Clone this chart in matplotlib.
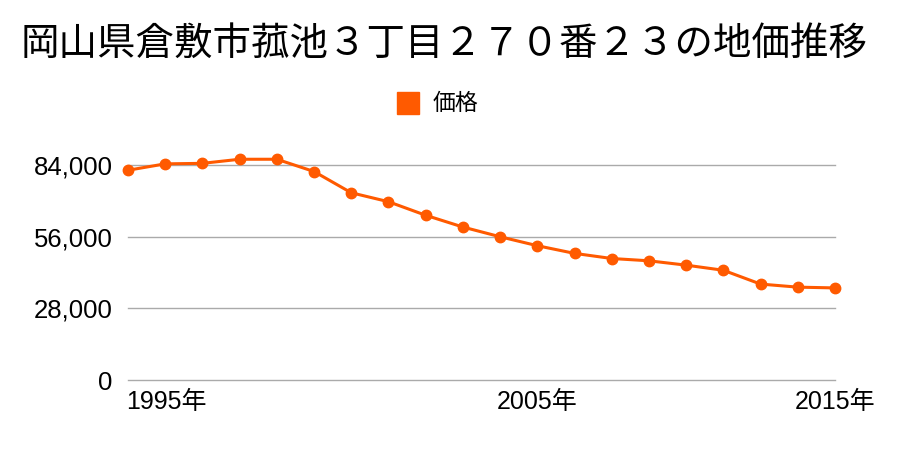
import matplotlib as mpl
mpl.use('Agg')
import matplotlib.pyplot as plt
from matplotlib.patches import Rectangle

plt.rcParams['font.family'] = ['Liberation Sans', 'Noto Sans CJK JP']

title = "岡山県倉敷市菰池３丁目２７０番２３の地価推移"
series_name = "価格"
prices = [82000, 84500, 84700, 86300, 86300, 81500, 73200, 69700, 64400, 59800,
          56000, 52500, 49500, 47500, 46600, 44900, 42900, 37500, 36300, 36000]
yticks = [0, 28000, 56000, 84000]
xtick_pos = [0, 11, 19]
xtick_labels = ["1995年", "2005年", "2015年"]

color = "#ff5a00"

fig = plt.figure(figsize=(9, 4.5), dpi=100)
ax = fig.add_axes([128/900, 1-380/450, (835-128)/900, (380-137)/450])

x = list(range(len(prices)))
ax.plot(x, prices, color=color, lw=2.2, marker='o', ms=7.5, zorder=3, clip_on=False)

ax.set_ylim(0, 95000)
ax.set_xlim(0, len(prices) - 1)
ax.set_yticks(yticks)
ax.set_yticklabels([f"{v:,}" for v in yticks], fontsize=18.5)
ax.set_xticks([])
for p, lab in zip(xtick_pos, xtick_labels):
    ha = 'left' if p == 0 else 'center'
    ax.text(p if p else -0.05, -0.04, lab, transform=ax.get_xaxis_transform(),
            ha=ha, va='top', fontsize=18)
ax.tick_params(axis='y', length=0, pad=11)
ax.grid(axis='y', color='#aaaaaa', lw=1)
for gl in ax.get_ygridlines():
    gl.set_clip_on(False)
ax.set_axisbelow(True)
for s in ax.spines.values():
    s.set_visible(False)

fig.text(444/900, 1-45/450, title, ha='center', va='center', fontsize=27.7)
fig.patches.append(Rectangle((397/900, 1-114/450), 22/900, 22/450,
                             transform=fig.transFigure, color=color))
fig.text(433/900, 1-103/450, series_name, ha='left', va='center', fontsize=16.5)

plt.savefig("out.png")
